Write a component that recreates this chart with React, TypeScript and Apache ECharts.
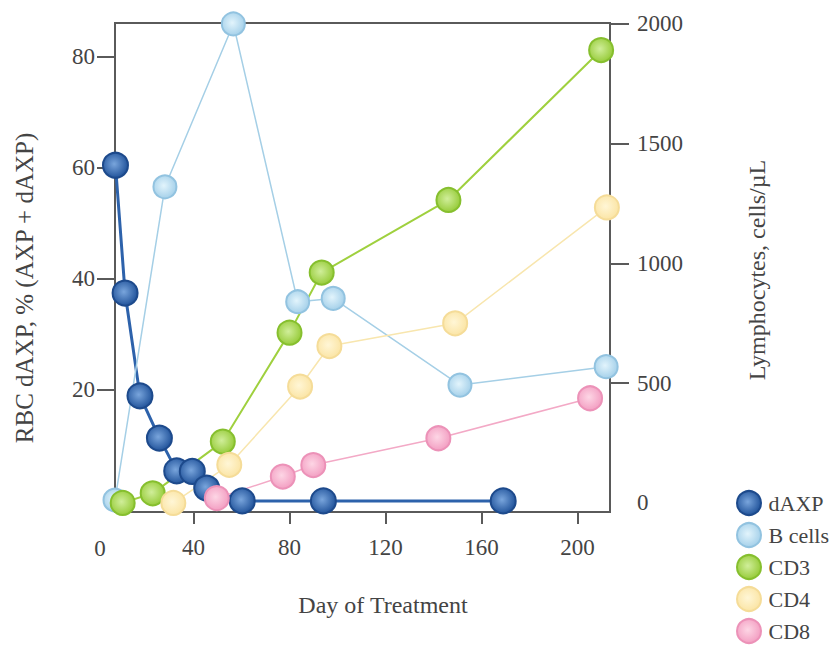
import React, { useEffect, useRef } from "react";
import * as echarts from "echarts";

const dAxpDays = [7.5, 11.5, 17.7, 25.8, 33, 39.5, 45.5, 60.3, 94.1, 169];
const dAxpPct = [60.4, 37.4, 18.9, 11.3, 5.4, 5.3, 2.3, 0, 0, 0];

const bCellDays = [7.3, 28.1, 56.6, 83.4, 98.2, 151, 211.9];
const bCellVals = [12, 1320, 2000, 840, 854, 492, 569];

const cd3Days = [10.5, 23, 52.2, 80, 93.4, 146.2, 209.8];
const cd3Vals = [0, 40, 256, 711, 962, 1265, 1891];

const cd4Days = [31.6, 54.9, 84.4, 96.6, 149, 212.2];
const cd4Vals = [0, 159, 486, 655, 750, 1234];

const cd8Days = [49.7, 77.2, 89.9, 142, 205.2];
const cd8Vals = [20, 110, 158, 270, 437];

const xTicks = [40, 80, 120, 160, 200];
const leftTicks = [20, 40, 60, 80];
const rightTicks = [500, 1000, 1500, 2000];
const rightLabels = [0, 500, 1000, 1500, 2000];

const FONT = "Liberation Serif";
const TEXT = "#444";
const AXIS = "#5a5a5a";

function radial(inner: string, outer: string) {
  return {
    type: "radial",
    x: 0.45,
    y: 0.45,
    r: 0.55,
    colorStops: [
      { offset: 0, color: inner },
      { offset: 1, color: outer },
    ],
  };
}

function pairs(xs: number[], ys: number[]) {
  return xs.map((x, i) => [x, ys[i]]);
}

export default function App() {
  const ref = useRef<HTMLDivElement>(null);
  useEffect(() => {
    if (!ref.current) return;
    const chart = echarts.init(ref.current, null, { renderer: "svg" });
    const mk = (
      name: string,
      xs: number[],
      ys: number[],
      yAxisIndex: number,
      lineColor: string,
      lineWidth: number,
      inner: string,
      outer: string,
      border: string,
      size: number
    ) => ({
      name,
      type: "line",
      yAxisIndex,
      data: pairs(xs, ys),
      symbol: "circle",
      symbolSize: size,
      showSymbol: true,
      lineStyle: { color: lineColor, width: lineWidth },
      itemStyle: {
        color: radial(inner, outer) as any,
        borderColor: border,
        borderWidth: 2,
      },
      emphasis: { disabled: true },
    });

    chart.setOption({
      animation: false,
      backgroundColor: "#fff",
      textStyle: { fontFamily: FONT },
      grid: {
        left: 115,
        top: 23,
        right: 230,
        bottom: 138,
        show: true,
        borderColor: AXIS,
        borderWidth: 2,
        backgroundColor: "transparent",
      },
      legend: {
        orient: "vertical",
        left: 736,
        top: 490,
        width: 104,
        height: 200,
        icon: "circle",
        itemWidth: 25,
        itemHeight: 24,
        itemGap: 6,
        padding: 0,
        textStyle: {
          fontFamily: FONT,
          fontSize: 22,
          lineHeight: 24,
          color: TEXT,
          padding: [0, 0, 0, 2],
        },
        data: ["dAXP", "B cells", "CD3", "CD4", "CD8"],
      },
      xAxis: {
        type: "value",
        min: 7.3,
        max: 213.5,
        axisLine: { show: false, onZero: false },
        splitLine: { show: false },
        axisTick: {
          show: true,
          inside: false,
          length: 12,
          customValues: xTicks,
          lineStyle: { color: AXIS, width: 2 },
        },
        axisLabel: {
          customValues: xTicks,
          margin: 24,
          fontFamily: FONT,
          fontSize: 23,
          color: TEXT,
        },
      },
      yAxis: [
        {
          type: "value",
          position: "left",
          min: -2,
          max: 86,
          axisLine: { show: false, onZero: false },
          splitLine: { show: false },
          axisTick: {
            show: true,
            length: 18,
            customValues: leftTicks,
            lineStyle: { color: AXIS, width: 2 },
          },
          axisLabel: {
            customValues: leftTicks,
            margin: 20,
            fontFamily: FONT,
            fontSize: 23,
            color: TEXT,
          },
        },
        {
          type: "value",
          position: "right",
          min: -38,
          max: 2004,
          axisLine: { show: false, onZero: false },
          splitLine: { show: false },
          axisTick: {
            show: true,
            length: 19,
            customValues: rightTicks,
            lineStyle: { color: AXIS, width: 2 },
          },
          axisLabel: {
            customValues: rightLabels,
            formatter: (v: number) => String(v),
            margin: 27,
            fontFamily: FONT,
            fontSize: 23,
            color: TEXT,
          },
        },
      ],
      graphic: [
        {
          type: "text",
          x: 100,
          y: 548,
          style: {
            text: "0",
            font: `23px "${FONT}"`,
            fill: TEXT,
            align: "center",
            verticalAlign: "middle",
          },
        },
        {
          type: "text",
          x: 383,
          y: 605,
          style: {
            text: "Day of Treatment",
            font: `24px "${FONT}"`,
            fill: TEXT,
            align: "center",
            verticalAlign: "middle",
          },
        },
        {
          type: "text",
          x: 24,
          y: 288,
          rotation: Math.PI / 2,
          style: {
            text: "RBC dAXP, % (AXP + dAXP)",
            font: `25px "${FONT}"`,
            fill: TEXT,
            align: "center",
            verticalAlign: "middle",
          },
        },
        {
          type: "text",
          x: 757,
          y: 270,
          rotation: Math.PI / 2,
          style: {
            text: "Lymphocytes, cells/µL",
            font: `24px "${FONT}"`,
            fill: TEXT,
            align: "center",
            verticalAlign: "middle",
          },
        },
      ],
      series: [
        mk("dAXP", dAxpDays, dAxpPct, 0, "#2d62ab", 3, "#79a5dc", "#23559c", "#1d4a8c", 25),
        mk("B cells", bCellDays, bCellVals, 1, "#a5cfe6", 1.5, "#e2f4fc", "#a6d1ea", "#92c3e0", 23),
        mk("CD3", cd3Days, cd3Vals, 1, "#9fd03e", 2, "#d0ee9a", "#98cc3c", "#86bf2e", 24),
        mk("CD4", cd4Days, cd4Vals, 1, "#f8e6ae", 1.5, "#fff6d6", "#fbe5a6", "#f5dc98", 24),
        mk("CD8", cd8Days, cd8Vals, 1, "#f3a9c6", 1.5, "#fdd6e5", "#f3a0c3", "#ec92b8", 24),
      ],
    });
    return () => chart.dispose();
  }, []);
  return (
    <div
      ref={ref}
      style={{ position: "fixed", left: 0, top: 0, width: 840, height: 650 }}
    />
  );
}
